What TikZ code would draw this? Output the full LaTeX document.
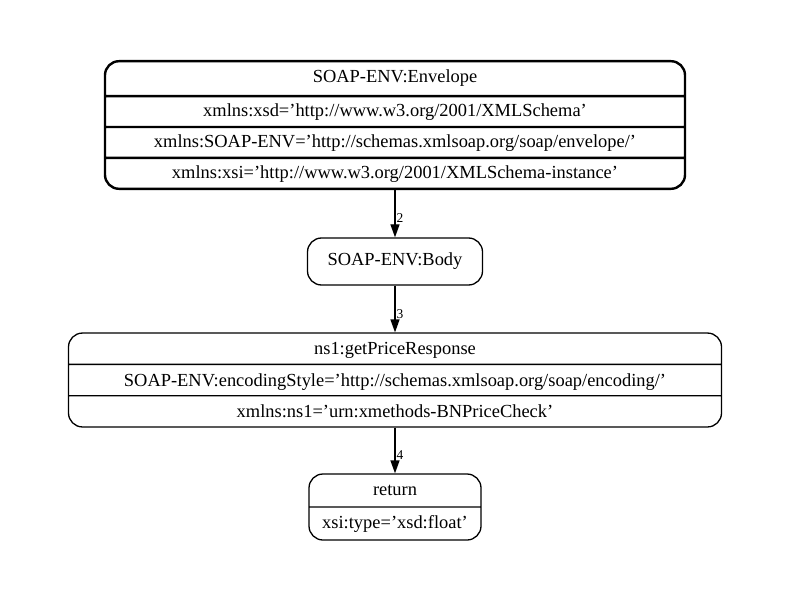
\documentclass[tikz,border=0pt]{standalone}
\usepackage{fontspec}
\setmainfont{Liberation Serif}
\usetikzlibrary{arrows.meta,shapes.multipart}

\newcommand{\envtopstrut}{\rule[-12bp]{0pt}{32.5bp}}
\newcommand{\envstrut}{\rule[-9.5bp]{0pt}{28.5bp}}
\newcommand{\rowstrut}{\rule[-9bp]{0pt}{30bp}}
\newcommand{\retstrut}{\rule[-10.5bp]{0pt}{31.7bp}}

\begin{document}
\begin{tikzpicture}[x=1bp, y=-1bp, >={Triangle[length=13bp,width=9bp]},
    font=\fontsize{18.5}{20}\selectfont, line width=1.3bp,
    record/.style={draw, rounded corners=14bp, rectangle split, rectangle split parts=#1, inner ysep=0pt},
    elabel/.style={right, pos=0.6, inner sep=1bp, font=\fontsize{13.5}{15}\selectfont}]
  \useasboundingbox (0,0) rectangle (789,599);
  % envelope with its namespaces
  \node[record=4, line width=2.4bp, minimum width=580bp] (env) at (395,125)
    {\envtopstrut SOAP-ENV:Envelope
     \nodepart{two}\envstrut xmlns:xsd='http://www.w3.org/2001/XMLSchema'
     \nodepart{three}\envstrut xmlns:SOAP-ENV='http://schemas.xmlsoap.org/soap/envelope/'
     \nodepart{four}\envstrut xmlns:xsi='http://www.w3.org/2001/XMLSchema-instance'};
  \node[draw, rounded corners=14bp, minimum width=175bp, minimum height=47bp] (body) at (395,261.5) {SOAP-ENV:Body};
  \node[record=3, minimum width=653bp] (resp) at (395,380)
    {\rowstrut ns1:getPriceResponse
     \nodepart{two}\rowstrut SOAP-ENV:encodingStyle='http://schemas.xmlsoap.org/soap/encoding/'
     \nodepart{three}\rowstrut xmlns:ns1='urn:xmethods-BNPriceCheck'};
  \node[record=2, minimum width=172bp] (ret) at (395,507)
    {\retstrut return
     \nodepart{two}\retstrut xsi:type='xsd:float'};
  % edges
  \draw[->] (env) -- node[elabel] {2} (body);
  \draw[->] (body) -- node[elabel] {3} (resp);
  \draw[->] (resp) -- node[elabel] {4} (ret);
\end{tikzpicture}
\end{document}
